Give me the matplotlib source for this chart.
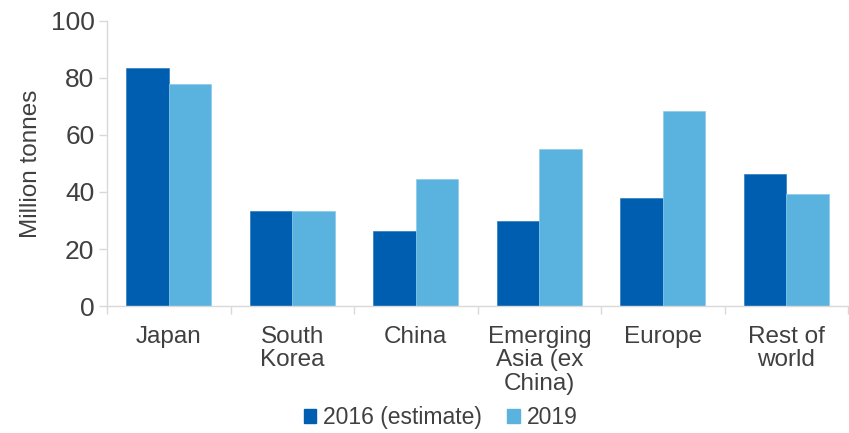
import numpy as np
import matplotlib.pyplot as plt
from matplotlib.patches import Patch

categories = ["Japan", "South\nKorea", "China", "Emerging\nAsia (ex\nChina)", "Europe", "Rest of\nworld"]
series_names = ["2016 (estimate)", "2019"]
values_2016 = [83.3, 33.4, 26.5, 29.7, 38.0, 46.3]
values_2019 = [77.8, 33.4, 44.6, 55.1, 68.5, 39.3]
y_ticks = [0, 20, 40, 60, 80, 100]

DARK = "#005EB0"
LIGHT = "#5AB3DE"
TEXT = "#404040"
AXIS = "#D9D9D9"

plt.rcParams["font.family"] = ["Liberation Sans", "DejaVu Sans"]

fig = plt.figure(figsize=(8.49, 4.33), dpi=100)
ax = fig.add_axes([0.126, 0.293, 0.873, 0.659])

x = np.arange(len(categories))
width = 0.343
ax.bar(x - width / 2, values_2016, width, color=DARK, edgecolor="#2F7CC0", linewidth=0.5)
ax.bar(x + width / 2, values_2019, width, color=LIGHT, edgecolor="#8ACBEA", linewidth=0.5)

ax.set_xlim(-0.5, len(categories) - 0.5)
ax.set_ylim(0, 100)
ax.set_yticks(y_ticks)
ax.set_yticklabels([str(t) for t in y_ticks], fontsize=19, color=TEXT)
ax.set_ylabel("Million tonnes", fontsize=17.5, color=TEXT, labelpad=6)

ax.set_xticks(x)
ax.set_xticklabels(categories, fontsize=17.5, color=TEXT, va="top", linespacing=1.1)
ax.tick_params(axis="x", which="major", length=0, pad=14)
ax.set_xticks(np.arange(len(categories) + 1) - 0.5, minor=True)
ax.tick_params(axis="x", which="minor", length=6, color=AXIS, width=1)
ax.tick_params(axis="y", length=6, color=AXIS, width=1, pad=3)

for side in ["top", "right"]:
    ax.spines[side].set_visible(False)
for side in ["left", "bottom"]:
    ax.spines[side].set_color(AXIS)
    ax.spines[side].set_linewidth(1)

handles = [Patch(color=DARK), Patch(color=LIGHT)]
fig.legend(handles, series_names, loc="lower center", bbox_to_anchor=(0.519, -0.038),
           ncol=2, frameon=False, fontsize=16.5, handlelength=0.55, handleheight=0.55,
           handletextpad=0.3, columnspacing=1.1, labelcolor=TEXT)

fig.savefig("out.png", dpi=100)
